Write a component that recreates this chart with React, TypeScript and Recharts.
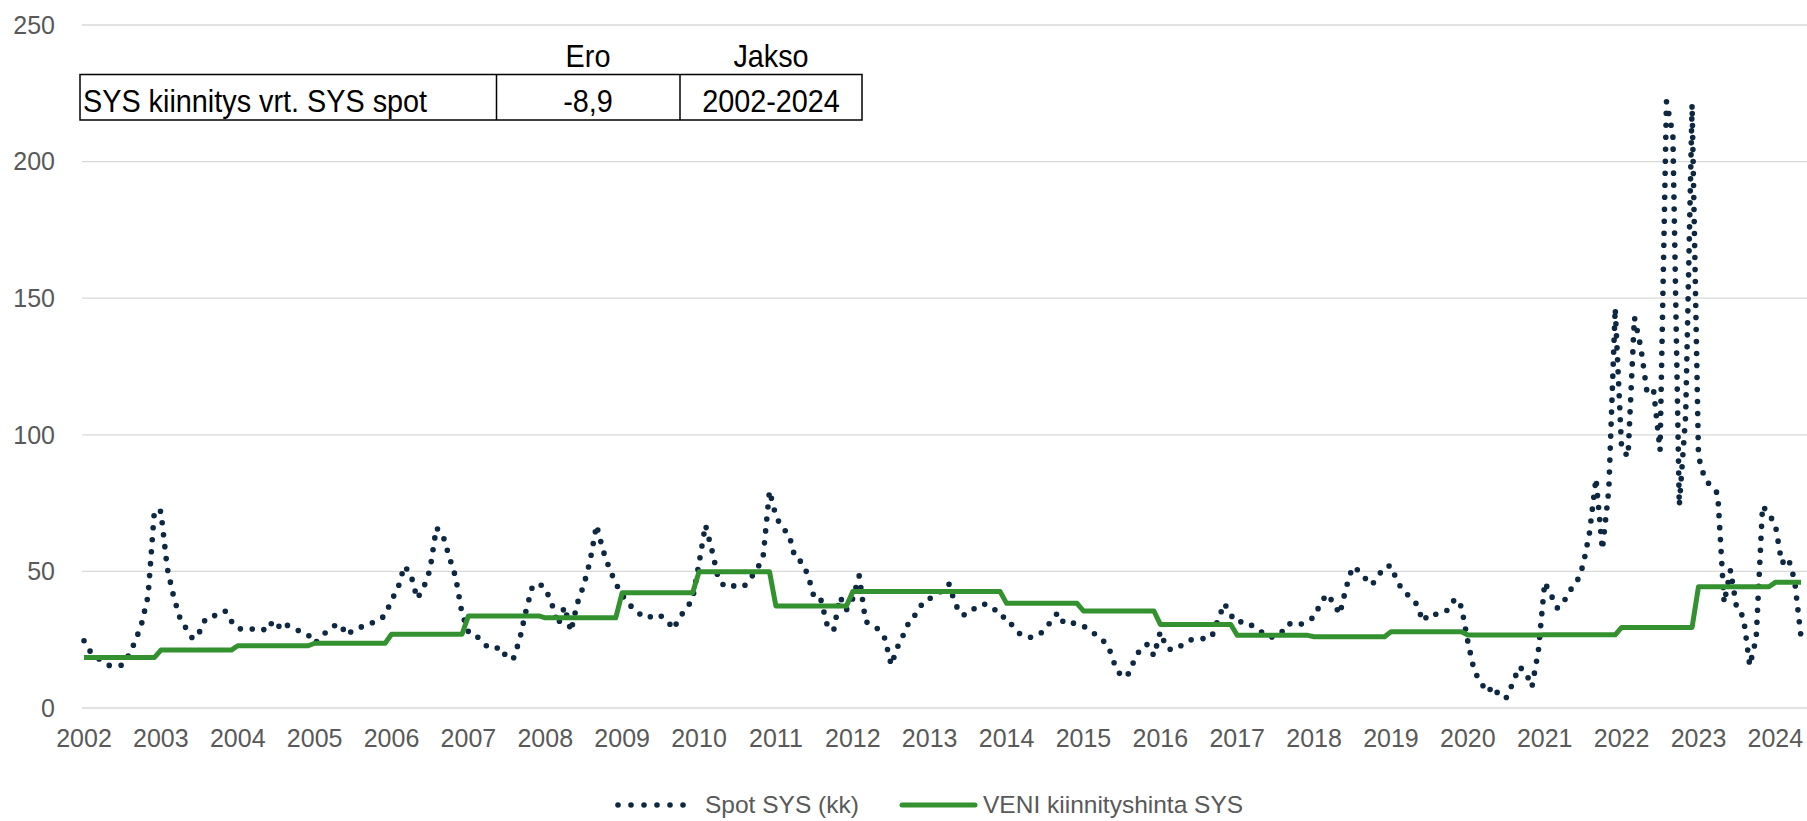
import { LineChart, Line, XAxis, YAxis, CartesianGrid } from "recharts";

// years on the x axis (one label per January)
const years = [
  2002, 2003, 2004, 2005, 2006, 2007, 2008, 2009, 2010, 2011, 2012, 2013,
  2014, 2015, 2016, 2017, 2018, 2019, 2020, 2021, 2022, 2023, 2024,
];

// Spot SYS, monthly average (Jan 2002 - May 2024)
const spotSys = [
  24.6, 20.6, 18.5, 17, 15.5, 15.5, 15.7, 19.4, 24.4, 30.9, 41, 72.5, // 2002
  72, 51.1, 40.7, 32.8, 28.9, 25.2, 27.7, 32.8, 33.4, 34.5, 35.6, 31.8, // 2003
  29.1, 28.8, 29.1, 28.5, 28.5, 31.5, 28.7, 31.6, 29.8, 28.9, 27.7, 26.7, // 2004
  23.7, 25.9, 28.3, 30, 30.7, 26.6, 28.5, 29.6, 29.9, 31.2, 32, 34, // 2005
  39.5, 43.8, 52, 49, 40, 44, 50.5, 66, 63.4, 55.4, 48, 34.6, // 2006
  27.9, 27.3, 24.3, 22.4, 21.5, 22.4, 18.4, 17.9, 25.1, 35.7, 44.6, 45.6, // 2007
  43.8, 38.3, 30.4, 37.1, 28, 38.3, 44.9, 53.9, 67, 57.8, 51.1, 45.6, // 2008
  41.3, 38.3, 35.6, 34, 32.8, 34.3, 33.7, 32.2, 28.8, 33.4, 36.2, 40, // 2009
  53, 67, 57.9, 47.4, 44.4, 44.9, 44.4, 44.4, 47.4, 50.5, 55.4, 79.5, // 2010
  70.2, 65.7, 63.9, 54.8, 53.5, 48.7, 40.1, 39.8, 30.4, 28.2, 40.7, 35.9, // 2011
  40.1, 48.4, 31.6, 30.4, 28.8, 25.5, 15.7, 22.4, 27.3, 32.8, 34.5, 39, // 2012
  40.1, 41.3, 43.2, 45.4, 38, 34, 34.4, 36.5, 38, 37.9, 36.5, 33.4, // 2013
  33.2, 29.8, 27.3, 25.9, 25.9, 26.7, 28.8, 32, 34.9, 30.9, 31.1, 31, // 2014
  30, 28.3, 26.7, 24.9, 21.8, 15.1, 11.2, 12.5, 17.8, 22.2, 23.3, 19.1, // 2015
  27.9, 21.8, 21.2, 22.4, 24.3, 25.1, 25.4, 25.4, 25.9, 32.2, 38.3, 34, // 2016
  31.2, 31.8, 30.7, 28.8, 27.6, 25.9, 26.1, 27.9, 31, 30.1, 30.7, 32, // 2017
  33.2, 38.3, 41.7, 38.6, 34.3, 44, 51.7, 50.2, 47.4, 45, 48.3, 51.7, // 2018
  52.1, 46.2, 42.6, 40.7, 38, 31.7, 34.6, 34.3, 34.6, 36.1, 40.1, 37.1, // 2019
  24.3, 13.5, 9.5, 5.7, 8, 4, 3.8, 9, 15.1, 13.3, 7.7, 20.7, // 2020
  46, 41.3, 36.5, 39, 43.2, 46, 52.3, 64.3, 84, 58, 79.8, 146.4, // 2021
  95, 92, 143, 132, 115, 116, 94.3, 222, 210, 74, 107, 221, // 2022
  92, 83.7, 81.2, 78.5, 38.5, 50.5, 36, 33.5, 15.5, 25.4, 74, 71, // 2023
  67, 53, 55, 46.8, 26, // 2024
];

// VENI kiinnityshinta SYS, one fixed price per year
const veniSys = [
  18.5, 21.2, 22.8, 23.7, 27.0, 33.7, 33.0, 42.2, 49.9, 37.3, 42.6, 42.6,
  38.3, 35.5, 30.6, 26.6, 26.1, 27.9, 26.7, 26.8, 29.5, 44.4, 46.0,
];

const yTicks = [0, 50, 100, 150, 200, 250];

const tableHeader = ["Ero", "Jakso"];
const tableRow = ["SYS kiinnitys vrt. SYS spot", "-8,9", "2002-2024"];

const legendLabels = ["Spot SYS (kk)", "VENI kiinnityshinta SYS"];

const data = spotSys.map((spot, i) => {
  const y = Math.floor(i / 12);
  return {
    month: `${years[y]}-${String((i % 12) + 1).padStart(2, "0")}`,
    spot,
    veni: veniSys[y],
  };
});

const FONT = "'Liberation Sans', Arial, sans-serif";
const NAVY = "#0e2841";
const GREEN = "#33922f";
const GREY = "#595959";

export default function App() {
  return (
    <div style={{ position: "relative", width: 1807, height: 821, background: "#fff" }}>
      <style>{`body{margin:0}`}</style>
      <LineChart
        width={1807}
        height={821}
        data={data}
        margin={{ top: 25, right: 0, left: 0, bottom: 83 }}
      >
        <CartesianGrid vertical={false} stroke="#d9d9d9" strokeWidth={1.3} />
        <XAxis
          dataKey="month"
          interval={11}
          tickFormatter={(m: string) => m.slice(0, 4)}
          axisLine={false}
          tickLine={false}
          tickSize={0}
          tickMargin={21}
          height={30}
          padding={{ left: 2, right: 6 }}
          tick={{ fill: GREY, fontSize: 25, fontFamily: FONT }}
        />
        <YAxis
          domain={[0, 250]}
          ticks={yTicks}
          width={82}
          axisLine={false}
          tickLine={false}
          tickSize={0}
          tickMargin={27}
          tick={{ fill: GREY, fontSize: 25, fontFamily: FONT }}
        />
        <Line
          type="linear"
          dataKey="spot"
          stroke={NAVY}
          strokeWidth={5.6}
          strokeDasharray="0 12"
          strokeLinecap="round"
          dot={false}
          isAnimationActive={false}
        />
        <Line
          type="linear"
          dataKey="veni"
          stroke={GREEN}
          strokeWidth={5}
          strokeLinejoin="round"
          dot={false}
          isAnimationActive={false}
        />
      </LineChart>

      {/* summary table */}
      <svg
        width={1807}
        height={130}
        style={{ position: "absolute", left: 0, top: 0, pointerEvents: "none" }}
        fontFamily={FONT}
        fontSize={32}
        fill="#000"
      >
        <text textAnchor="middle" transform="translate(588,66.5) scale(0.9,1)">
          {tableHeader[0]}
        </text>
        <text textAnchor="middle" transform="translate(771,66.5) scale(0.9,1)">
          {tableHeader[1]}
        </text>
        <rect x={80} y={74.5} width={782} height={45.5} fill="#fff" stroke="#000" strokeWidth={1.5} />
        <line x1={496.5} x2={496.5} y1={74.5} y2={120} stroke="#000" strokeWidth={1.5} />
        <line x1={680} x2={680} y1={74.5} y2={120} stroke="#000" strokeWidth={1.5} />
        <text transform="translate(83,111.5) scale(0.9,1)">{tableRow[0]}</text>
        <text textAnchor="middle" transform="translate(588,111.5) scale(0.9,1)">
          {tableRow[1]}
        </text>
        <text textAnchor="middle" transform="translate(771,111.5) scale(0.9,1)">
          {tableRow[2]}
        </text>
      </svg>

      {/* legend */}
      <div
        style={{
          position: "absolute",
          top: 790,
          left: 0,
          width: 1807,
          height: 30,
          fontFamily: FONT,
          fontSize: 24.5,
          color: GREY,
        }}
      >
        <svg width={84} height={10} style={{ position: "absolute", left: 615, top: 10 }}>
          <line
            x1={3}
            x2={81}
            y1={5}
            y2={5}
            stroke={NAVY}
            strokeWidth={5.6}
            strokeDasharray="0 13"
            strokeLinecap="round"
          />
        </svg>
        <span style={{ position: "absolute", left: 705, top: 0, lineHeight: "30px" }}>
          {legendLabels[0]}
        </span>
        <svg width={80} height={10} style={{ position: "absolute", left: 899, top: 10 }}>
          <line x1={3} x2={76} y1={5} y2={5} stroke={GREEN} strokeWidth={5} strokeLinecap="round" />
        </svg>
        <span style={{ position: "absolute", left: 983, top: 0, lineHeight: "30px" }}>
          {legendLabels[1]}
        </span>
      </div>
    </div>
  );
}
